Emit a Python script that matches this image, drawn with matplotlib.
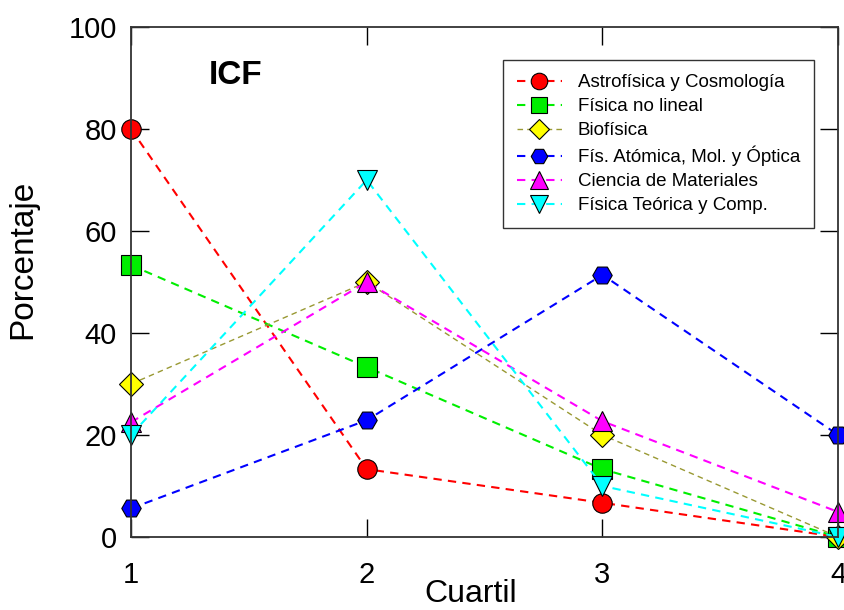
import matplotlib.pyplot as plt
import numpy as np

plt.rcParams['font.family'] = ['Liberation Sans', 'DejaVu Sans']

# Porcentaje por cuartil, para cada área
cuartiles = [1, 2, 3, 4]
astro = [80, 13.3, 6.7, 0]
no_lineal = [53.3, 33.3, 13.3, 0]
biofisica = [30, 50, 20, 0]
atomica = [5.6, 22.9, 51.4, 20]
materiales = [22.5, 50, 22.7, 4.9]
teorica = [20, 70, 10, 0]

series = [
    ('Astrofísica y Cosmología', astro, 'red', 'red', 'o', 1.5),
    ('Física no lineal', no_lineal, '#00ee00', '#00ee00', 's', 1.5),
    ('Biofísica', biofisica, '#999933', 'yellow', 'D', 1.0),
    ('Fís. Atómica, Mol. y Óptica', atomica, 'blue', 'blue', 'H', 1.5),
    ('Ciencia de Materiales', materiales, 'magenta', 'magenta', '^', 1.5),
    ('Física Teórica y Comp.', teorica, 'cyan', 'cyan', 'v', 1.5),
]
sizes = {'o': 14, 'H': 14, 's': 14, 'D': 12, '^': 15, 'v': 15}

fig = plt.figure(figsize=(8.45, 6.1), dpi=100)
ax = fig.add_axes([0.155, 0.1197, 0.837, 0.836])

for label, vals, col, fill, mk, lw in series:
    ax.plot(cuartiles, vals, color=col, linestyle='--', dashes=(4, 3), lw=lw,
            marker=mk, markersize=sizes[mk], markerfacecolor=fill,
            markeredgecolor='black', markeredgewidth=0.8, clip_on=False,
            label=label)

ax.set_xlim(1, 4)
ax.set_ylim(0, 100)
ax.set_xticks([1, 2, 3, 4])
ax.set_yticks([0, 20, 40, 60, 80, 100])
ax.tick_params(direction='in', length=13, width=1, labelsize=21,
               top=True, right=True, colors='black')
ax.tick_params(axis='x', pad=17)
ax.tick_params(axis='y', pad=10)
for s in ax.spines.values():
    s.set_linewidth(1.3)
    s.set_color('#333333')

ax.set_xlabel('Cuartil', fontsize=23)
ax.xaxis.set_label_coords(0.48, -0.127, transform=ax.transAxes)
ax.xaxis.label.set_va('baseline')
ax.set_ylabel('Porcentaje', fontsize=24)
ax.yaxis.set_label_coords(-0.131, 0.545, transform=ax.transAxes)

ax.text(0.11, 0.905, 'ICF', transform=ax.transAxes, fontsize=24,
        fontweight='bold', ha='left', va='center')

leg = ax.legend(loc='upper right', bbox_to_anchor=(0.966, 0.935), fontsize=13.5,
                frameon=True, fancybox=False, edgecolor='black',
                handlelength=2.4, borderpad=0.75, labelspacing=0.36,
                handletextpad=0.85, markerscale=0.85, borderaxespad=0)
leg.get_frame().set_linewidth(1.0)

fig.savefig('out.png', dpi=100)
